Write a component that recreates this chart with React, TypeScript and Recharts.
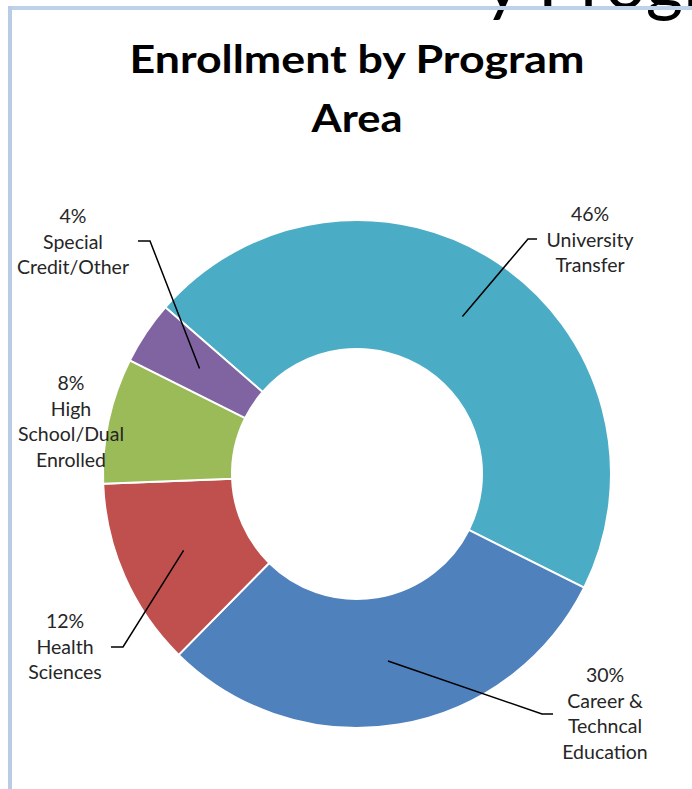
import React from "react";
import { PieChart, Pie, Cell } from "recharts";

const categories = [
  "University\nTransfer",
  "Career &\nTechncal\nEducation",
  "Health\nSciences",
  "High\nSchool/Dual\nEnrolled",
  "Special\nCredit/Other",
];
const values = [46, 30, 12, 8, 4];
const colors = ["#4BACC6", "#4F81BD", "#C0504D", "#9BBB59", "#8064A2"];

const data = categories.map((name, i) => ({ name, value: values[i] }));

// label block layout relative to pie centre: text centre x, first baseline y, elbow (from, to)
const labelLayout = [
  { dx: 233, dy: -253, elbow: [[171, -235], [180, -235]] },
  { dx: 248, dy: 208, elbow: [[185, 240], [196, 240]] },
  { dx: -292, dy: 154, elbow: [[-234, 173], [-246, 173]] },
  { dx: -286, dy: -84, elbow: null },
  { dx: -284, dy: -251, elbow: [[-207, -233], [-219, -233]] },
];

const W = 692;
const H = 789;
const CX = 357;
const CY = 474;
const R_IN = 125;
const R_OUT = 254;
const LABEL_FONT = "Lato, 'Noto Sans', sans-serif";
const RAD = Math.PI / 180;

const renderLabel = (props: any) => {
  const { index, midAngle, percent } = props;
  const cx = props.cx ?? CX;
  const cy = props.cy ?? CY;
  const ir = props.innerRadius ?? R_IN;
  const or = props.outerRadius ?? R_OUT;
  const lay = labelLayout[index];
  const r = (ir + or) / 2;
  const px = cx + r * Math.cos(-midAngle * RAD);
  const py = cy + r * Math.sin(-midAngle * RAD);
  const lines = [`${Math.round(percent * 100)}%`, ...String(data[index].name).split("\n")];
  const lh = 25.6;
  return (
    <g key={`lbl-${index}`}>
      {lay.elbow && (
        <polyline
          points={`${px},${py} ${cx + lay.elbow[0][0]},${cy + lay.elbow[0][1]} ${cx + lay.elbow[1][0]},${cy + lay.elbow[1][1]}`}
          fill="none"
          stroke="#000"
          strokeWidth={1.5}
        />
      )}
      {lines.map((t, j) => (
        <text
          key={j}
          x={cx + lay.dx}
          y={cy + lay.dy + j * lh}
          textAnchor="middle"
          fontFamily={LABEL_FONT}
          fontSize={19.5}
          fill="#262626"
        >
          {t}
        </text>
      ))}
    </g>
  );
};

export default function App() {
  return (
    <div
      style={{
        position: "absolute",
        left: 0,
        top: 0,
        width: W,
        height: H,
        overflow: "hidden",
        background: "#fff",
      }}
    >
      <svg
        width={W}
        height={H}
        style={{ position: "absolute", left: 0, top: 0 }}
      >
        <text x={484} y={8} fontFamily={LABEL_FONT} fontSize={72} fill="#000">
          y Program
        </text>
        <rect x={8} y={6} width={W} height={4} fill="#BFD1E8" />
        <rect x={8} y={6} width={4} height={H} fill="#B9CCE5" />
        <text
          x={357}
          y={73}
          textAnchor="middle"
          fontFamily={LABEL_FONT}
          fontWeight={700}
          fontSize={39}
          fill="#000"
          textLength={455}
          lengthAdjust="spacingAndGlyphs"
        >
          Enrollment by Program
        </text>
        <text
          x={357}
          y={132}
          textAnchor="middle"
          fontFamily={LABEL_FONT}
          fontWeight={700}
          fontSize={39}
          fill="#000"
          textLength={91}
          lengthAdjust="spacingAndGlyphs"
        >
          Area
        </text>
      </svg>
      <div style={{ position: "absolute", left: 0, top: 0 }}>
        <PieChart width={W} height={H} margin={{ top: 0, right: 0, bottom: 0, left: 0 }}>
          <Pie
            data={data}
            dataKey="value"
            nameKey="name"
            cx={CX}
            cy={CY}
            innerRadius={R_IN}
            outerRadius={R_OUT}
            startAngle={139}
            endAngle={-221}
            stroke="#ffffff"
            strokeWidth={2}
            label={renderLabel}
            labelLine={false}
            isAnimationActive={false}
          >
            {data.map((d, i) => (
              <Cell key={d.name} fill={colors[i]} />
            ))}
          </Pie>
        </PieChart>
      </div>
    </div>
  );
}
